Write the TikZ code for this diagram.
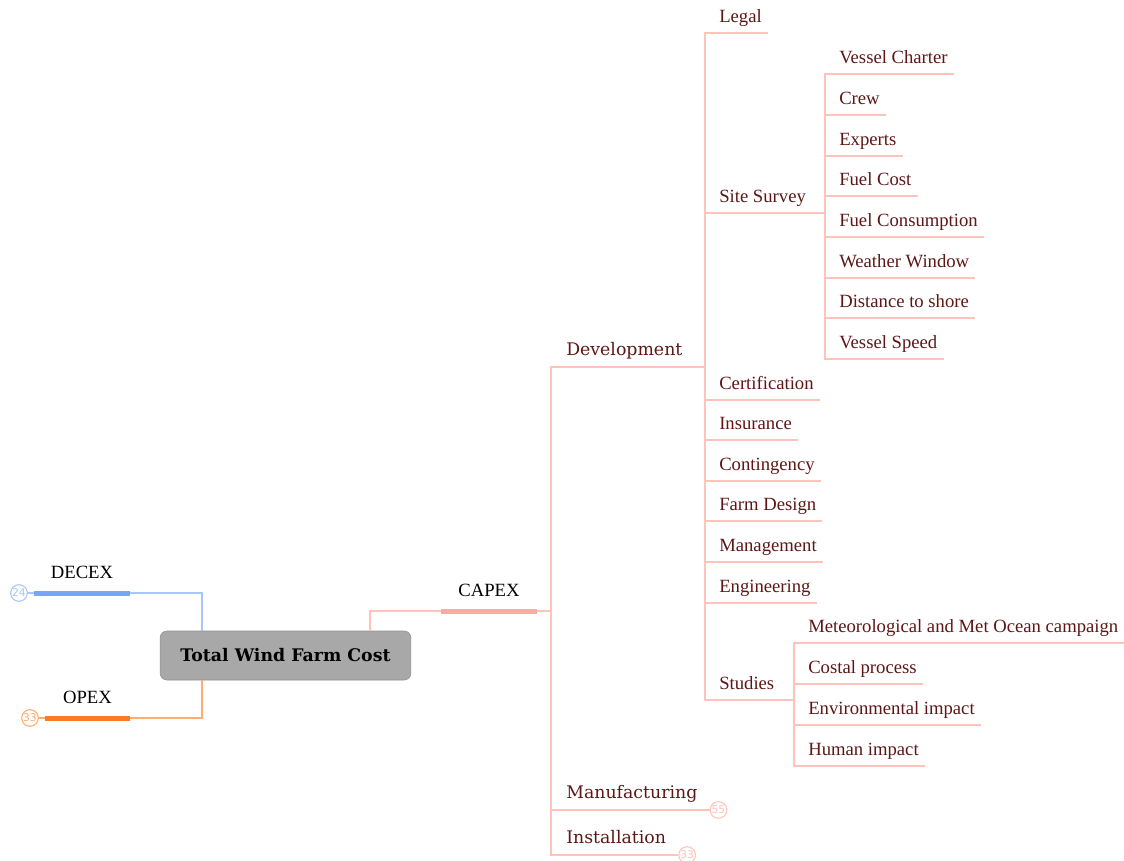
\documentclass[tikz,border=0pt]{standalone}
\usepackage{fontspec}
\setmainfont{Liberation Serif}
\newfontfamily\branchfont{DejaVu Serif}
\newfontfamily\badgefont{DejaVu Sans}

\definecolor{capexline}{RGB}{255,195,188}
\definecolor{capexbar}{RGB}{250,172,164}
\definecolor{leaftext}{RGB}{94,22,22}
\definecolor{decexline}{RGB}{168,198,252}
\definecolor{decexbar}{RGB}{122,164,246}
\definecolor{opexline}{RGB}{255,172,112}
\definecolor{opexbar}{RGB}{255,122,40}
\definecolor{rootgray}{RGB}{168,168,168}

\tikzset{
    root/.style={rectangle, rounded corners=5pt, fill=rootgray, draw=rootgray!85!black, line width=0.4pt,
        minimum width=188pt, minimum height=36.75pt, font=\branchfont\bfseries\fontsize{13}{16}\selectfont},
    topic/.style={anchor=south, inner xsep=0pt, inner ysep=10.5pt, text depth=0pt, font=\fontsize{14}{16}\selectfont},
    branch/.style={anchor=south west, inner xsep=9pt, inner ysep=8.2pt, text depth=0pt, text=leaftext,
        font=\branchfont\fontsize{13}{16}\selectfont},
    leaf/.style={anchor=south west, inner xsep=4.5pt, inner ysep=7.4pt, text depth=0pt, text=leaftext,
        font=\fontsize{14}{16}\selectfont},
    thin/.style={line width=1.1pt},
    bar/.style={line width=3.75pt},
    badge/.style={circle, line width=0.8pt, inner sep=0pt, minimum size=12.5pt, fill=white,
        font=\badgefont\fontsize{8}{8}\selectfont}
}

\begin{document}
\begin{tikzpicture}[x=0.75pt, y=-0.75pt]
    \useasboundingbox (0,0) rectangle (1124,860);

    % central topic
    \node[root] (total) at (285.5,655.5) {Total Wind Farm Cost};

    % DECEX
    \node[topic, minimum width=72pt] (decex) at (82,593) {DECEX};
    \node[badge, draw=decexline, text=decexline] (decexcount) at (19,593) {24};
    \draw[bar, decexbar] (decex.south west) -- (decex.south east);
    \draw[thin, decexline] (decexcount) -- (decex.south west);
    \draw[thin, decexline] ([xshift=31.5pt]total.north west) |- (decex.south east);

    % OPEX
    \node[topic, minimum width=63.75pt] (opex) at (87.5,718) {OPEX};
    \node[badge, draw=opexline, text=opexline] (opexcount) at (30,718) {33};
    \draw[bar, opexbar] (opex.south west) -- (opex.south east);
    \draw[thin, opexline] (opexcount) -- (opex.south west);
    \draw[thin, opexline] ([xshift=31.5pt]total.south west) |- (opex.south east);

    % CAPEX
    \node[topic, minimum width=72pt] (capex) at (489,611) {CAPEX};
    \coordinate (capexfork) at (551,611);
    \draw[bar, capexbar] (capex.south west) -- (capex.south east);
    \draw[thin, capexline] ([xshift=157.5pt]total.north west) |- (capex.south west);
    \draw[thin, capexline] (capex.south east) -- (capexfork);

    % CAPEX branches
    \node[branch] (dev) at (554,367) {Development};
    \node[branch] (manuf) at (554,810) {Manufacturing};
    \node[branch] (install) at (554,855) {Installation};
    \coordinate (devfork) at (705,367);

    \draw[thin, capexline] (capexfork) |- (devfork);
    \draw[thin, capexline] (capexfork) |- (manuf.south east);
    \draw[thin, capexline] (capexfork) |- (install.south east);
    \node[badge, draw=capexline, text=capexline, anchor=west] (manufcount) at (manuf.south east) {55};
    \node[badge, draw=capexline, text=capexline, anchor=west] (installcount) at (install.south east) {33};

    % Development
    \node[leaf] (legal) at (713,33) {Legal};
    \node[leaf] (survey) at (713,213) {Site Survey};
    \node[leaf] (cert) at (713,400) {Certification};
    \node[leaf] (insur) at (713,440) {Insurance};
    \node[leaf] (conting) at (713,481) {Contingency};
    \node[leaf] (farm) at (713,521) {Farm Design};
    \node[leaf] (manage) at (713,562) {Management};
    \node[leaf] (engin) at (713,603) {Engineering};
    \node[leaf] (studies) at (713,700) {Studies};
    \coordinate (surveyfork) at (825,213);
    \coordinate (studiesfork) at (794,700);

    \draw[thin, capexline] (devfork) |- (legal.south east);
    \draw[thin, capexline] (devfork) |- (surveyfork);
    \draw[thin, capexline] (devfork) |- (cert.south east);
    \draw[thin, capexline] (devfork) |- (insur.south east);
    \draw[thin, capexline] (devfork) |- (conting.south east);
    \draw[thin, capexline] (devfork) |- (farm.south east);
    \draw[thin, capexline] (devfork) |- (manage.south east);
    \draw[thin, capexline] (devfork) |- (engin.south east);
    \draw[thin, capexline] (devfork) |- (studiesfork);

    % Site Survey
    \node[leaf] (charter) at (833,74) {Vessel Charter};
    \node[leaf] (crew) at (833,115) {Crew};
    \node[leaf] (experts) at (833,156) {Experts};
    \node[leaf] (fuelcost) at (833,196) {Fuel Cost};
    \node[leaf] (fuelcons) at (833,237) {Fuel Consumption};
    \node[leaf] (weather) at (833,278) {Weather Window};
    \node[leaf] (distance) at (833,318) {Distance to shore};
    \node[leaf] (speed) at (833,359) {Vessel Speed};

    \draw[thin, capexline] (surveyfork) |- (charter.south east);
    \draw[thin, capexline] (surveyfork) |- (crew.south east);
    \draw[thin, capexline] (surveyfork) |- (experts.south east);
    \draw[thin, capexline] (surveyfork) |- (fuelcost.south east);
    \draw[thin, capexline] (surveyfork) |- (fuelcons.south east);
    \draw[thin, capexline] (surveyfork) |- (weather.south east);
    \draw[thin, capexline] (surveyfork) |- (distance.south east);
    \draw[thin, capexline] (surveyfork) |- (speed.south east);

    % Studies
    \node[leaf] (meteo) at (802,643) {Meteorological and Met Ocean campaign};
    \node[leaf] (costal) at (802,684) {Costal process};
    \node[leaf] (environ) at (802,725) {Environmental impact};
    \node[leaf] (human) at (802,766) {Human impact};

    \draw[thin, capexline] (studiesfork) |- (meteo.south east);
    \draw[thin, capexline] (studiesfork) |- (costal.south east);
    \draw[thin, capexline] (studiesfork) |- (environ.south east);
    \draw[thin, capexline] (studiesfork) |- (human.south east);
\end{tikzpicture}
\end{document}
